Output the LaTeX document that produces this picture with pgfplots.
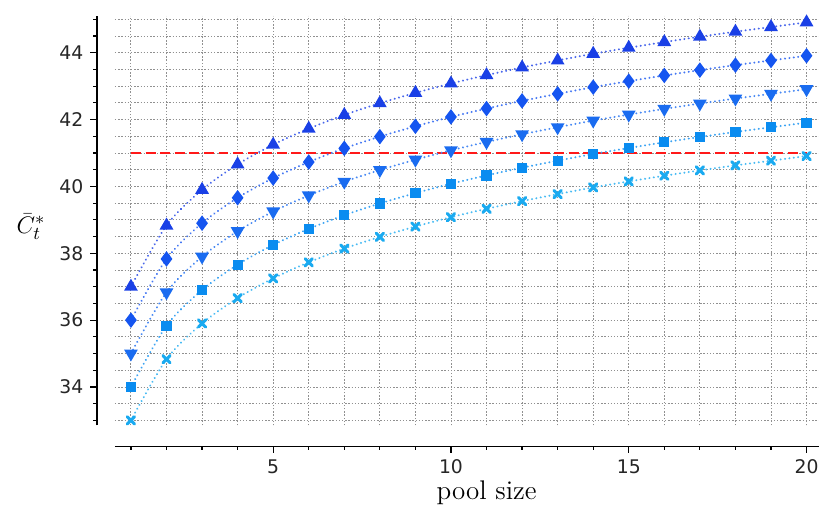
\documentclass[border=0pt]{standalone}
\usepackage{pgfplots}
\usepackage{pgfplotstable}
\usepackage{fontspec}
\pgfplotsset{compat=1.18}
\newfontfamily\dejavu{DejaVu Sans}
\definecolor{cA}{HTML}{1A40E6}
\definecolor{cB}{HTML}{1555F0}
\definecolor{cC}{HTML}{1A6CF0}
\definecolor{cD}{HTML}{0A8CF0}
\definecolor{cE}{HTML}{1AAAF0}
\definecolor{gridc}{HTML}{909090}

% pool size vs \bar C_t^*, one column per curve
\pgfplotstableread{
x  a      b      c      d      e
1  37.00  36.00  35.00  34.00  33.00
2  38.83  37.83  36.83  35.83  34.83
3  39.90  38.90  37.90  36.90  35.90
4  40.66  39.66  38.66  37.66  36.66
5  41.25  40.25  39.25  38.25  37.25
6  41.73  40.73  39.73  38.73  37.73
7  42.14  41.14  40.14  39.14  38.14
8  42.49  41.49  40.49  39.49  38.49
9  42.80  41.80  40.80  39.80  38.80
10 43.08  42.08  41.08  40.08  39.08
11 43.33  42.33  41.33  40.33  39.33
12 43.56  42.56  41.56  40.56  39.56
13 43.77  42.77  41.77  40.77  39.77
14 43.97  42.97  41.97  40.97  39.97
15 44.15  43.15  42.15  41.15  40.15
16 44.32  43.32  42.32  41.32  40.32
17 44.48  43.48  42.48  41.48  40.48
18 44.63  43.63  42.63  41.63  40.63
19 44.77  43.77  42.77  41.77  40.77
20 44.91  43.91  42.91  41.91  40.91
}\curves

\pgfplotsset{
  dotline/.style={line width=1.1pt, dash pattern=on 0.01pt off 2.2pt, line cap=round, smooth},
}

\begin{document}
\begin{tikzpicture}
\useasboundingbox (-57.5pt,-41pt) rectangle (352.2pt,212.8pt);
\begin{axis}[
    scale only axis,
    width=352.2pt, height=204.8pt,
    xmin=0.55, xmax=20.35,
    ymin=32.85, ymax=45.1,
    axis x line*=bottom,
    axis y line*=left,
    axis x line shift=10.5pt,
    axis y line shift=9pt,
    axis line style={line width=0.8pt, -},
    xtick={5,10,15,20},
    minor xtick={1,...,20},
    ytick={34,36,...,44},
    minor ytick={33,33.5,...,45},
    grid=both,
    major grid style={gridc, line width=0.45pt, dash pattern=on 0.7pt off 0.9pt},
    minor grid style={gridc, line width=0.45pt, dash pattern=on 0.7pt off 0.9pt},
    tick align=outside,
    major tick length=3.3pt,
    minor tick length=1.8pt,
    tick style={black, line width=0.6pt},
    ticklabel style={font=\dejavu\fontsize{9.4}{10}\selectfont, text=black!85},
    /pgf/number format/assume math mode=true,
    xlabel={pool size},
    xlabel style={at={(axis description cs:0.528,0)}, anchor=center, yshift=-33.5pt,
      font=\fontsize{13.5}{15}\selectfont},
    clip=false,
]
\addplot[red!90!white, line width=0.8pt, dash pattern=on 5pt off 2.3pt] coordinates {(1,41) (20,41)};

\addplot[cA!80!white, dotline, mark=triangle*, mark size=2.9pt,
  mark options={solid, fill=cA, draw=cA}] table[x=x, y=a] {\curves};
\addplot[cB!80!white, dotline, mark=diamond*, mark size=3pt,
  mark options={solid, fill=cB, draw=cB}] table[x=x, y=b] {\curves};
\addplot[cC!80!white, dotline, mark=triangle*, mark size=2.9pt,
  mark options={solid, fill=cC, draw=cC, rotate=180}] table[x=x, y=c] {\curves};
\addplot[cD!80!white, dotline, mark=square*, mark size=2pt,
  mark options={solid, fill=cD, draw=cD}] table[x=x, y=d] {\curves};
\addplot[cE!80!white, dotline, mark=x, mark size=2.6pt,
  mark options={solid, draw=cE, line width=1.5pt}] table[x=x, y=e] {\curves};

\node at (axis description cs:0,0.486) [xshift=-42pt, font=\fontsize{13}{15}\selectfont] {$\bar{C}_t^*$};
\end{axis}
\end{tikzpicture}
\end{document}
